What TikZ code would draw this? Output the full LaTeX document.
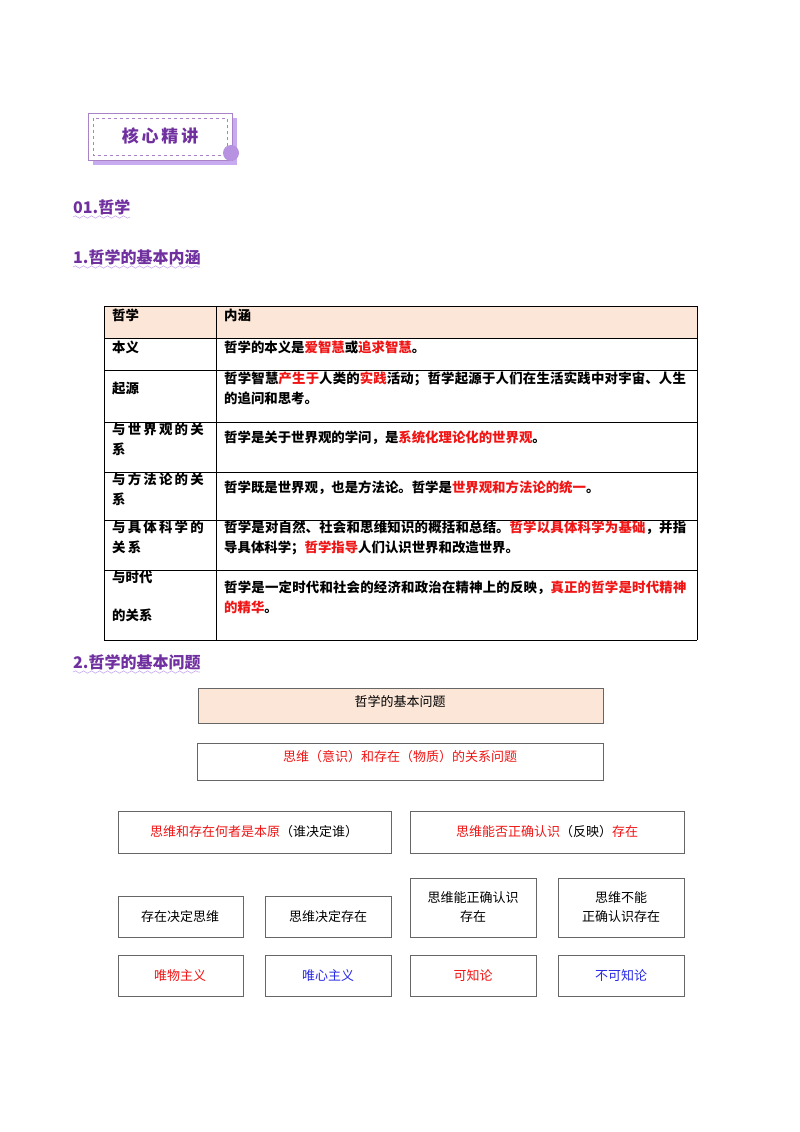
\documentclass[tikz,border=0pt]{standalone}
\usepackage{fontspec}
\newfontfamily\cjk{Noto Sans CJK SC}
\XeTeXlinebreaklocale "zh"
\XeTeXlinebreakskip=0pt plus 1pt
\usetikzlibrary{decorations.pathmorphing}
\definecolor{pur}{RGB}{112,48,160}
\definecolor{lpur}{RGB}{200,170,240}
\definecolor{peach}{RGB}{252,230,216}
\definecolor{rd}{RGB}{240,20,20}
\definecolor{bl}{RGB}{40,40,230}
\newcommand{\R}[1]{\textcolor{rd}{#1}}
\tikzset{x=1pt,y=-1pt,
 cell/.style={draw=black,line width=1pt},
 tx/.style={font=\cjk\fontsize{13.4}{20}\selectfont\bfseries,anchor=north west,align=left,inner sep=0pt},
 box/.style={draw=black!60,line width=0.6pt},
 bt/.style={font=\cjk\fontsize{13}{19}\selectfont,align=center},
 head/.style={font=\cjk\fontsize{16}{18}\selectfont\bfseries,text=pur,anchor=west,inner sep=0pt},
 wave/.style={lpur,line width=0.6pt,decorate,decoration={snake,amplitude=1.2pt,segment length=8pt}}}
\begin{document}
\begin{tikzpicture}
\useasboundingbox[fill=white] (0,0) rectangle (800,1132);
% badge
\fill[lpur] (93,118) rectangle (237,165);
\draw[pur!60,line width=0.8pt,fill=white] (88,113) rectangle (232,160);
\draw[pur!60,dashed,line width=0.5pt] (93,118) rectangle (227,155);
\fill[lpur!80!pur] (231,153) circle (8);
\node[font=\cjk\fontsize{17}{18}\selectfont\bfseries,text=pur] (badge) at (160,136) {核\,心\,精\,讲};
% headings
\node[head] (h1) at (73,207) {01.哲学};
\draw[wave] (73,217) -- (130,217);
\node[head] (h2) at (73,257) {1.哲学的基本内涵};
\draw[wave] (73,267) -- (200,267);
\node[head] (h3) at (73,662) {2.哲学的基本问题};
\draw[wave] (73,672) -- (200,672);
% table
\fill[peach] (104,306) rectangle (697,338);
\foreach \y in {306,338,370,422,472,520,570,640} \draw[cell] (104,\y) -- (697,\y);
\foreach \x in {104,216,697} \draw[cell] (\x,306) -- (\x,640);
\node[tx] (a0) at (112,309) {哲学};
\node[tx] (b0) at (224,309) {内涵};
\node[tx] (a1) at (112,341) {本义};
\node[tx] (b1) at (224,341) {哲学的本义是\R{爱智慧}或\R{追求智慧}。};
\node[tx] (a2) at (112,382) {起源};
\node[tx,text width=468pt] (b2) at (224,372) {哲学智慧\R{产生于}人类的\R{实践}活动；哲学起源于人们在生活实践中对宇宙、人生的追问和思考。};
\node[tx,text width=100pt] (a3) at (112,423) {与\,世\,界\,观\,的\,关\\系};
\node[tx] (b3) at (224,431) {哲学是关于世界观的学问，是\R{系统化理论化的世界观}。};
\node[tx,text width=100pt] (a4) at (112,473) {与\,方\,法\,论\,的\,关\\系};
\node[tx] (b4) at (224,481) {哲学既是世界观，也是方法论。哲学是\R{世界观和方法论的统一}。};
\node[tx,text width=100pt] (a5) at (112,521) {与\,具\,体\,科\,学\,的\\关\,系};
\node[tx,text width=468pt] (b5) at (224,521) {哲学是对自然、社会和思维知识的概括和总结。\R{哲学以具体科学为基础}，并指导具体科学；\R{哲学指导}人们认识世界和改造世界。};
\node[tx] (a6) at (112,571) {与时代};
\node[tx] (a6b) at (112,609) {的关系};
\node[tx,text width=468pt] (b6) at (224,581) {哲学是一定时代和社会的经济和政治在精神上的反映，\R{真正的哲学是时代精神的精华}。};
% diagram
\draw[box,fill=peach] (198,688) rectangle (603,723);
\node[bt] (q) at (400,701) {哲学的基本问题};
\draw[box] (197,743) rectangle (603,780);
\node[bt,text=rd] (q1) at (400,757) {思维（意识）和存在（物质）的关系问题};
\draw[box] (118,811) rectangle (391,853);
\node[bt] (p1) at (254,832) {\R{思维和存在何者是本原}（谁决定谁）};
\draw[box] (410,811) rectangle (684,853);
\node[bt] (p2) at (547,832) {\R{思维能否正确认识}（反映）\R{存在}};
\draw[box] (118,896) rectangle (243,937);
\node[bt] (c1) at (180,917) {存在决定思维};
\draw[box] (265,896) rectangle (391,937);
\node[bt] (c2) at (328,917) {思维决定存在};
\draw[box] (410,878) rectangle (536,937);
\node[bt] (c3) at (473,907) {思维能正确认识\\存在};
\draw[box] (558,878) rectangle (684,937);
\node[bt] (c4) at (621,907) {思维不能\\正确认识存在};
\draw[box] (118,955) rectangle (243,996);
\node[bt,text=rd] (d1) at (180,976) {唯物主义};
\draw[box] (265,955) rectangle (391,996);
\node[bt,text=bl] (d2) at (328,976) {唯心主义};
\draw[box] (410,955) rectangle (536,996);
\node[bt,text=rd] (d3) at (473,976) {可知论};
\draw[box] (558,955) rectangle (684,996);
\node[bt,text=bl] (d4) at (621,976) {不可知论};
\end{tikzpicture}
\end{document}
